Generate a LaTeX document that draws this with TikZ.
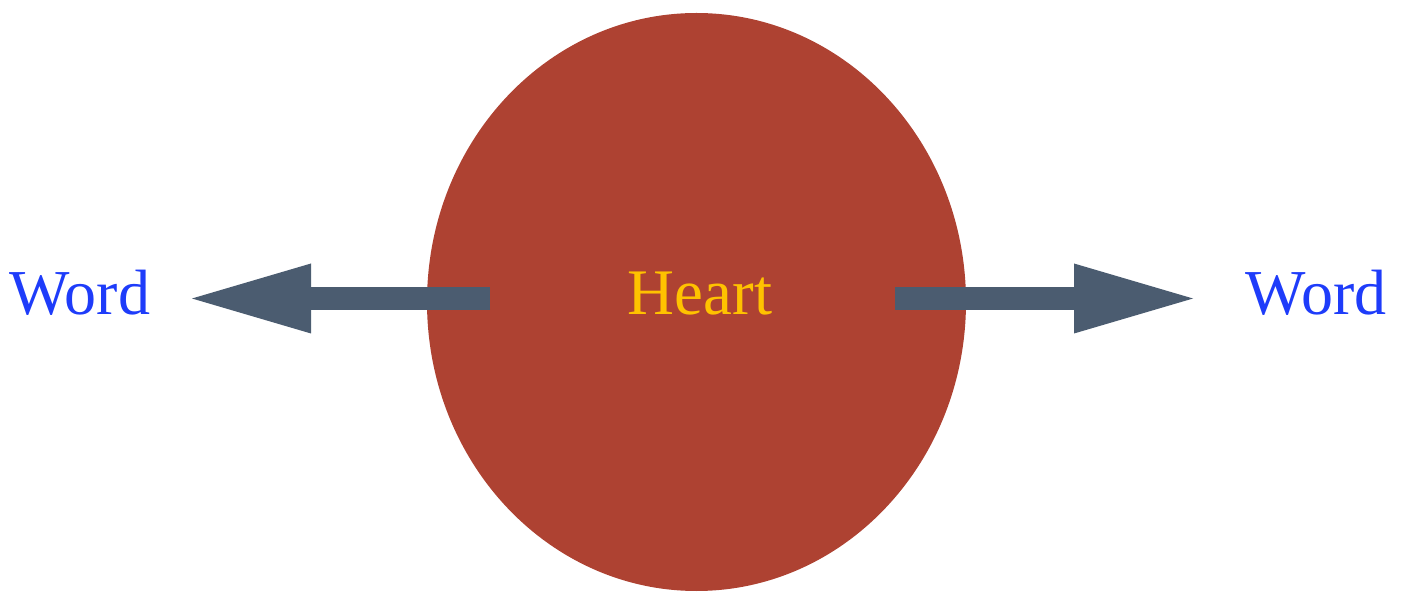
\documentclass[tikz,border=0pt]{standalone}
\usepackage{fontspec}
\setmainfont{Liberation Serif}
\usetikzlibrary{shapes.geometric,arrows.meta}
\definecolor{heartred}{HTML}{AE4232}
\definecolor{arrowgray}{HTML}{4B5C70}
\definecolor{wordblue}{HTML}{1E3CFA}
\definecolor{gold}{HTML}{FFC200}
\tikzset{
  wordtext/.style={font=\fontsize{64}{64}\selectfont, text=wordblue, anchor=base, inner sep=0pt},
  hearttext/.style={font=\fontsize{65}{65}\selectfont, text=gold, anchor=base, inner sep=0pt},
  blockarrow/.style={draw=arrowgray, line width=23pt, -{Triangle[length=119pt,width=70pt,line width=0pt,fill=arrowgray]}},
}
\begin{document}
\begin{tikzpicture}[x=1pt,y=-1pt]
\useasboundingbox (0,0) rectangle (1401,593);
\node[ellipse, fill=heartred, minimum width=539pt, minimum height=578pt, inner sep=0pt] (heart) at (696.5,302) {};
\node[hearttext] (hearttxt) at (700,315) {Heart};
\node[wordtext] (wordl) at (80,315) {Word};
\node[wordtext] (wordr) at (1316,315) {Word};
\coordinate (ls) at (490,298.5);
\coordinate (lt) at (192,298.5);
\coordinate (rs) at (895,298.5);
\coordinate (rt) at (1193,298.5);
\draw[blockarrow] (ls) -- (lt);
\draw[blockarrow] (rs) -- (rt);
\end{tikzpicture}
\end{document}
